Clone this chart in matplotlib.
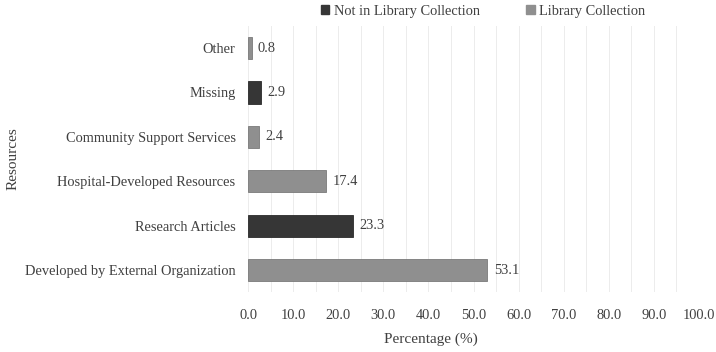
import matplotlib
matplotlib.use("Agg")
import matplotlib.pyplot as plt
from matplotlib.patches import Patch
import numpy as np

categories = ["Developed by External Organization", "Research Articles",
              "Hospital-Developed Resources", "Community Support Services",
              "Missing", "Other"]
values = [53.1, 23.3, 17.4, 2.4, 2.9, 0.8]
in_library = [True, False, True, True, False, True]
xticks = [0, 10, 20, 30, 40, 50, 60, 70, 80, 90, 100]

dark = "#363636"
light = "#8f8f8f"
fs = 10.4

plt.rcParams['font.family'] = ['Liberation Serif', 'DejaVu Serif']
fig = plt.figure(figsize=(7.16, 3.52), dpi=100)
ax = fig.add_axes([248 / 716, 1 - 292.2 / 352, 451 / 716, 266.4 / 352])

y = np.arange(len(categories))
colors = [light if lib else dark for lib in in_library]
edges = ["#7a7a7a" if lib else "#2a2a2a" for lib in in_library]
ax.barh(y, values, height=0.5, color=colors, edgecolor=edges, linewidth=0.6, zorder=3)
for yi, v in zip(y, values):
    ax.text(v + 1.4, yi, f"{v:.1f}", va="center", ha="left", fontsize=fs, color="#404040")

ax.set_xlim(0, 100)
ax.set_ylim(-0.5, len(categories) - 0.5)
ax.set_xticks(xticks)
ax.set_xticklabels([f"{t:.1f}" for t in xticks])
ax.set_xticks(np.arange(0, 101, 5), minor=True)
ax.grid(axis="x", which="both", color="#ececec", linewidth=0.7, zorder=0)
ax.set_yticks(y)
ax.set_yticklabels(categories)
ax.tick_params(axis="both", which="both", length=0, labelsize=fs, colors="#404040")
ax.tick_params(axis="x", pad=12)
ax.tick_params(axis="y", pad=9)
for s in ax.spines.values():
    s.set_visible(False)
ax.set_xlabel("Percentage (%)", fontsize=11, color="#404040")
ax.xaxis.set_label_coords(0.406, -0.15)
ax.set_ylabel("Resources", fontsize=11, color="#404040")
ax.yaxis.set_label_coords((20 - 248) / 451, 0.5)

handles = [Patch(facecolor=dark, edgecolor=dark), Patch(facecolor=light, edgecolor=light)]
fig.legend(handles, ["Not in Library Collection", "Library Collection"],
           loc="center", bbox_to_anchor=(483 / 716, 1 - 11 / 352), ncol=2, frameon=False,
           fontsize=fs, handlelength=0.6, handleheight=0.6, handletextpad=0.3,
           columnspacing=3.2, labelcolor="#404040")

fig.savefig("out.png", dpi=100)
